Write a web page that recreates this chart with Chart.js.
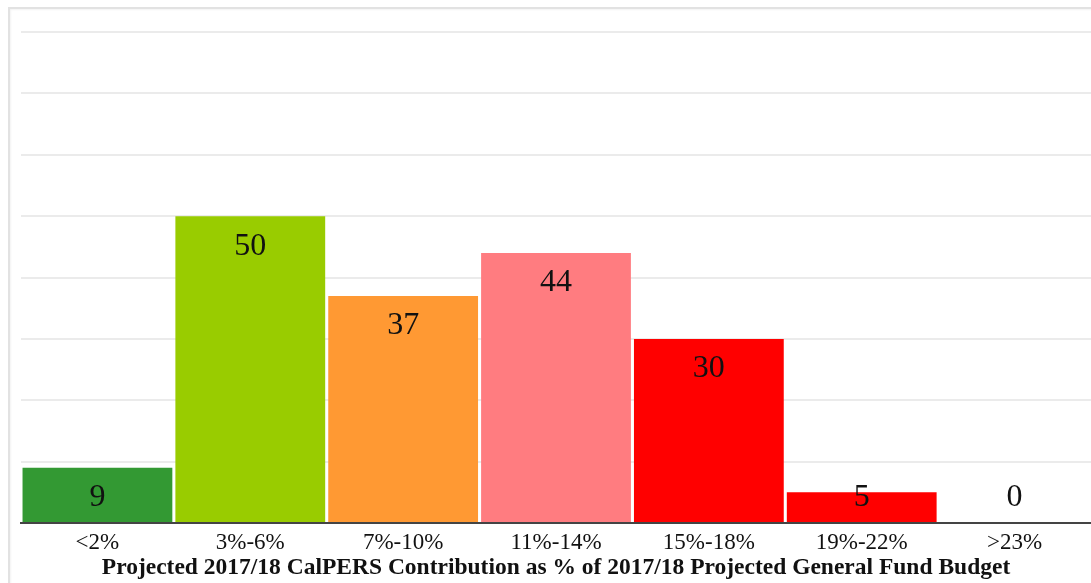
<!DOCTYPE html>
<html>
<head>
<meta charset="utf-8">
<script src="https://cdn.jsdelivr.net/npm/chart.js@4/dist/chart.umd.min.js"></script>
<style>
  html, body { margin: 0; padding: 0; background: #fff; }
  #wrap { position: relative; width: 1091px; height: 583px; overflow: hidden; }
  #frame { position: absolute; left: 8px; top: 7px; width: 1100px; height: 600px;
           border-top: 2px solid #e2e2e2; border-left: 2px solid #e2e2e2; box-shadow: inset 1px 1px 2px rgba(0,0,0,0.05); }
  canvas { position: absolute; left: 0; top: 0; }
</style>
</head>
<body>
<div id="wrap">
  <div id="frame"></div>
  <canvas id="c" width="1091" height="583"></canvas>
</div>
<script>
const categories = ['<2%', '3%-6%', '7%-10%', '11%-14%', '15%-18%', '19%-22%', '>23%'];
const counts = [9, 50, 37, 44, 30, 5, 0];
const barColors = ['#339933', '#99cc00', '#ff9933', '#ff7c80', '#ff0000', '#ff0000', '#ffffff'];
const xTitle = 'Projected 2017/18 CalPERS Contribution as % of 2017/18 Projected General Fund Budget';

const valueLabels = {
  id: 'valueLabels',
  afterDatasetsDraw(chart) {
    const ctx = chart.ctx;
    const meta = chart.getDatasetMeta(0);
    const base = chart.scales.y.getPixelForValue(0);
    ctx.save();
    ctx.font = '32px "Liberation Serif", "Times New Roman", serif';
    ctx.fillStyle = '#111';
    ctx.textAlign = 'center';
    ctx.textBaseline = 'middle';
    meta.data.forEach((bar, i) => {
      const y = Math.min(bar.y + 30, base - 25);
      ctx.fillText(String(counts[i]), bar.x, y);
    });
    ctx.restore();
  }
};

new Chart(document.getElementById('c'), {
  type: 'bar',
  data: {
    labels: categories,
    datasets: [{
      data: counts,
      backgroundColor: barColors,
      borderWidth: 0,
      barPercentage: 0.98,
      categoryPercentage: 1.0
    }]
  },
  options: {
    responsive: false,
    animation: false,
    events: [],
    layout: { padding: { left: 21, top: 32, right: -1, bottom: 0 } },
    plugins: { legend: { display: false }, tooltip: { enabled: false } },
    scales: {
      x: {
        afterFit(scale) { scale.height = 60; },
        grid: { display: false, drawTicks: false },
        border: { display: true, color: '#444', width: 2 },
        ticks: {
          color: '#111',
          padding: 8,
          font: { family: '"Liberation Serif", "Times New Roman", serif', size: 23, lineHeight: 1.0 },
          maxRotation: 0, autoSkip: false
        },
        title: {
          display: true,
          text: xTitle,
          color: '#111',
          padding: { top: 0, bottom: 3 },
          font: { family: '"Liberation Serif", "Times New Roman", serif', size: 23.5, weight: 'bold', lineHeight: 1.0 }
        }
      },
      y: {
        min: 0, max: 80,
        ticks: { display: false, stepSize: 10 },
        grid: { color: '#ebebeb', lineWidth: 2, drawTicks: false },
        border: { display: false }
      }
    }
  },
  plugins: [valueLabels]
});
</script>
</body>
</html>
